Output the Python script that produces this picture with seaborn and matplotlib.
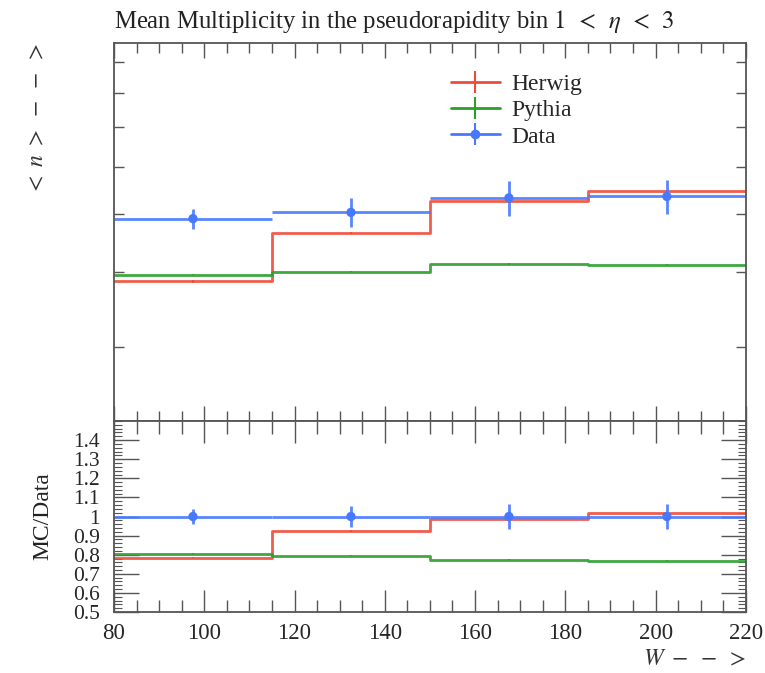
import numpy as np
import pandas as pd
import seaborn as sns
import matplotlib
matplotlib.use("Agg")
import matplotlib.pyplot as plt
from matplotlib.ticker import FixedLocator, MultipleLocator, NullFormatter, NullLocator, FuncFormatter
from matplotlib.lines import Line2D

# bins in W and the mean multiplicity per bin
bin_edges = [80, 115, 150, 185, 220]
data_vals = [4.92, 5.04, 5.33, 5.36]
data_errs = [0.19, 0.28, 0.36, 0.36]
herwig_vals = [3.86, 4.66, 5.26, 5.47]
herwig_errs = [0.02, 0.02, 0.02, 0.02]
pythia_vals = [3.96, 4.01, 4.13, 4.12]
pythia_errs = [0.01, 0.01, 0.01, 0.01]

RED = "#f04b38"
GREEN = "#2a9f2a"
BLUE = "#4679ff"
FRAME = "#555555"

sns.set_style("ticks")
plt.rcParams["font.family"] = ["Liberation Serif", "DejaVu Serif"]
plt.rcParams["mathtext.fontset"] = "stix"

edges = np.array(bin_edges, dtype=float)
centers = 0.5 * (edges[:-1] + edges[1:])
half = 0.5 * np.diff(edges)
data = np.array(data_vals)


def step_frame(vals):
    return pd.DataFrame({"W": edges, "y": list(vals) + [vals[-1]]})


fig = plt.figure(figsize=(7.65, 6.73), dpi=100)
ax = fig.add_axes([0.149, 0.3744, 0.826, 0.5617])
rax = fig.add_axes([0.149, 0.0906, 0.826, 0.2838], sharex=ax)

# --- main panel ---
for vals, errs, col in [(herwig_vals, herwig_errs, RED), (pythia_vals, pythia_errs, GREEN)]:
    sns.lineplot(data=step_frame(vals), x="W", y="y", drawstyle="steps-post",
                 color=col, lw=2, alpha=0.9, estimator=None, ax=ax, legend=False)
    ax.errorbar(centers, vals, yerr=errs, fmt="none", ecolor=col, lw=1.5, alpha=0.9)

ax.errorbar(centers, data_vals, xerr=half, yerr=data_errs, fmt="none",
            ecolor=BLUE, lw=2, alpha=0.9)
sns.scatterplot(x=centers, y=data_vals, color=BLUE, s=45, edgecolor="none", ax=ax, zorder=5)

ax.set_yscale("log")
ax.set_ylim(2.25, 9.7)
ax.set_xlim(80, 220)
ax.yaxis.set_major_locator(NullLocator())
ax.yaxis.set_minor_locator(FixedLocator([3, 4, 5, 6, 7, 8, 9]))
ax.yaxis.set_major_formatter(NullFormatter())
ax.yaxis.set_minor_formatter(NullFormatter())
ax.xaxis.set_major_locator(MultipleLocator(20))
ax.xaxis.set_minor_locator(MultipleLocator(5))
ax.tick_params(axis="x", labelbottom=False)
ax.tick_params(which="both", direction="in", top=True, right=True, color=FRAME)
ax.tick_params(which="major", length=11, width=1)
ax.tick_params(which="minor", length=7, width=1)
ax.set_xlabel("")
ax.set_ylabel(r"$<\ n\ >\ -\ -\ >$", loc="top", fontsize=17, color="#333333", labelpad=44)
ax.set_title(r"Mean Multiplicity in the pseudorapidity bin $1\;\:<\;\:\eta\;\:<\;\:3$",
             loc="left", pad=11, fontsize=17.8, color="#222222")

handles = [
    (Line2D([], [], color=RED, lw=2), Line2D([], [], color=RED, marker="|", ms=16, mew=1.5, ls="none")),
    (Line2D([], [], color=GREEN, lw=2), Line2D([], [], color=GREEN, marker="|", ms=16, mew=1.5, ls="none")),
    (Line2D([], [], color=BLUE, lw=2), Line2D([], [], color=BLUE, marker="|", ms=16, mew=1.5, ls="none"),
     Line2D([], [], color=BLUE, marker="o", ms=6, ls="none")),
]
ax.legend(handles, ["Herwig", "Pythia", "Data"], loc="upper left", bbox_to_anchor=(0.5, 0.975),
          frameon=False, fontsize=17, handlelength=2.05, labelspacing=0.2, handletextpad=0.5)

# --- ratio panel ---
for vals, errs, col in [(herwig_vals, herwig_errs, RED), (pythia_vals, pythia_errs, GREEN)]:
    ratio = np.array(vals) / data
    sns.lineplot(data=step_frame(ratio), x="W", y="y", drawstyle="steps-post",
                 color=col, lw=2, alpha=0.9, estimator=None, ax=rax, legend=False)
    rax.errorbar(centers, ratio, yerr=np.array(errs) / data, fmt="none", ecolor=col, lw=1.5, alpha=0.9)

rel = np.array(data_errs) / data
rax.errorbar(centers, np.ones(4), xerr=half, yerr=rel, fmt="none", ecolor=BLUE, lw=2, alpha=0.9)
sns.scatterplot(x=centers, y=np.ones(4), color=BLUE, s=45, edgecolor="none", ax=rax, zorder=5)

rax.set_ylim(0.5, 1.5)
rax.set_xlim(80, 220)
rax.yaxis.set_major_locator(FixedLocator(np.round(np.arange(0.5, 1.41, 0.1), 2)))
rax.yaxis.set_minor_locator(MultipleLocator(0.02))
rax.yaxis.set_major_formatter(FuncFormatter(lambda v, p: "%g" % v))
rax.xaxis.set_major_locator(MultipleLocator(20))
rax.xaxis.set_minor_locator(MultipleLocator(5))
rax.tick_params(which="both", direction="in", top=True, right=True, color=FRAME)
rax.tick_params(axis="x", which="major", length=16, width=1, labelsize=16.5, pad=8)
rax.tick_params(axis="x", which="minor", length=9, width=1)
rax.tick_params(axis="y", which="major", length=18, width=1, labelsize=15.5, pad=10)
rax.tick_params(axis="y", which="minor", length=6, width=0.8)
rax.set_ylabel("MC/Data", fontsize=17, color="#222222", labelpad=14)
rax.set_xlabel(r"$W\ -\ -\ >$", loc="right", fontsize=17, color="#333333", labelpad=4)

for a in (ax, rax):
    for s in a.spines.values():
        s.set_color(FRAME)
        s.set_linewidth(1.3)

fig.savefig("out.png", dpi=100)
